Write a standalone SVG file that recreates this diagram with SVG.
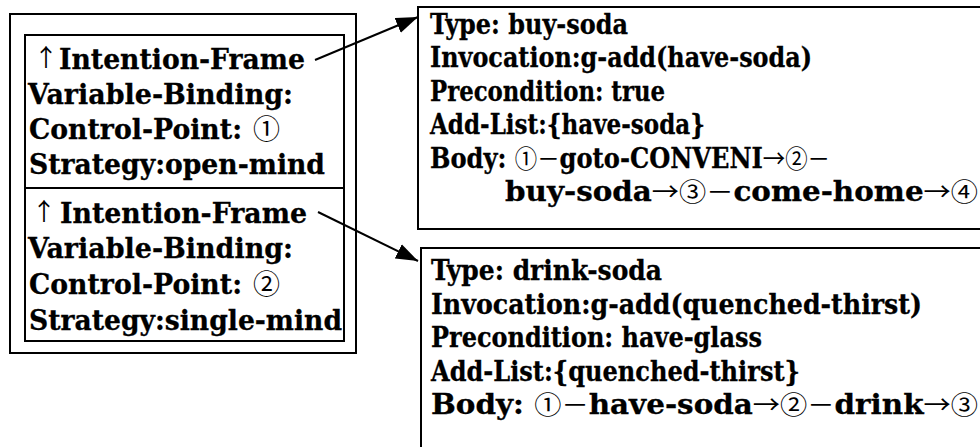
<svg xmlns="http://www.w3.org/2000/svg" width="980" height="447" viewBox="0 0 980 447">
  <style>
    .box { fill: none; stroke: #000; stroke-width: 2; }
    .t { font-family: "DejaVu Serif", "Liberation Serif", serif; font-weight: bold; font-size: 27px; fill: #000; stroke: #000; stroke-width: 0.3; }
    .s { font-family: "Noto Sans CJK JP", "DejaVu Sans", sans-serif; font-weight: normal; font-size: 25px; stroke-width: 0; }
    .cp { font-size: 27px; }
    .up { font-size: 24px; }
    .edge { stroke: #000; stroke-width: 2; fill: none; marker-end: url(#head); }
  </style>
  <defs>
    <marker id="head" markerUnits="userSpaceOnUse" markerWidth="24" markerHeight="16" refX="22" refY="8" orient="auto">
      <path d="M0,0 L22,8 L0,16 Z" fill="#000"/>
    </marker>
  </defs>
  <rect width="980" height="447" fill="#fff"/>

  <!-- stack of intention frames -->
  <g id="intention-stack">
    <rect class="box" x="10" y="14" width="346" height="339"/>
  </g>

  <g id="frame-1">
    <rect class="box" x="25" y="35" width="319" height="153"/>
    <text class="t s up" x="34" y="66">↑</text>
    <text class="t" x="59" y="69" textLength="246" lengthAdjust="spacingAndGlyphs">Intention-Frame</text>
    <text class="t" x="28" y="104" textLength="265" lengthAdjust="spacingAndGlyphs">Variable-Binding:</text>
    <text class="t" x="29" y="139" textLength="213" lengthAdjust="spacingAndGlyphs">Control-Point:</text>
    <text class="t s cp" x="253" y="139">①</text>
    <text class="t" x="29" y="174" textLength="296" lengthAdjust="spacingAndGlyphs">Strategy:open-mind</text>
  </g>

  <g id="frame-2">
    <rect class="box" x="25" y="188" width="319" height="153"/>
    <text class="t s up" x="32" y="220">↑</text>
    <text class="t" x="60" y="223" textLength="247" lengthAdjust="spacingAndGlyphs">Intention-Frame</text>
    <text class="t" x="28" y="258" textLength="265" lengthAdjust="spacingAndGlyphs">Variable-Binding:</text>
    <text class="t" x="29" y="294" textLength="213" lengthAdjust="spacingAndGlyphs">Control-Point:</text>
    <text class="t s cp" x="253" y="294">②</text>
    <text class="t" x="29" y="330" textLength="313" lengthAdjust="spacingAndGlyphs">Strategy:single-mind</text>
  </g>

  <!-- plan: buy-soda -->
  <g id="plan-buy-soda">
    <rect class="box" x="418" y="7" width="600" height="222"/>
    <text class="t" x="430" y="34" textLength="198" lengthAdjust="spacingAndGlyphs">Type: buy-soda</text>
    <text class="t" x="430" y="67" textLength="382" lengthAdjust="spacingAndGlyphs">Invocation:g-add(have-soda)</text>
    <text class="t" x="430" y="101" textLength="235" lengthAdjust="spacingAndGlyphs">Precondition: true</text>
    <text class="t" x="430" y="134" textLength="275" lengthAdjust="spacingAndGlyphs">Add-List:{have-soda}</text>
    <text class="t" x="430" y="168" textLength="400" lengthAdjust="spacingAndGlyphs">Body: <tspan class="s">①－</tspan>goto-CONVENI<tspan class="s">→②－</tspan></text>
    <text class="t" x="505" y="201" textLength="473" lengthAdjust="spacingAndGlyphs">buy-soda<tspan class="s">→③－</tspan>come-home<tspan class="s">→④</tspan></text>
  </g>

  <!-- plan: drink-soda -->
  <g id="plan-drink-soda">
    <rect class="box" x="421" y="248" width="600" height="220"/>
    <text class="t" x="431" y="280" textLength="231" lengthAdjust="spacingAndGlyphs">Type: drink-soda</text>
    <text class="t" x="431" y="314" textLength="491" lengthAdjust="spacingAndGlyphs">Invocation:g-add(quenched-thirst)</text>
    <text class="t" x="431" y="347" textLength="331" lengthAdjust="spacingAndGlyphs">Precondition: have-glass</text>
    <text class="t" x="431" y="381" textLength="369" lengthAdjust="spacingAndGlyphs">Add-List:{quenched-thirst}</text>
    <text class="t" x="431" y="414" textLength="547" lengthAdjust="spacingAndGlyphs">Body: <tspan class="s">①－</tspan>have-soda<tspan class="s">→②－</tspan>drink<tspan class="s">→③</tspan></text>
  </g>

  <g id="connectors">
    <line class="edge" x1="315" y1="60" x2="418" y2="17"/>
    <line class="edge" x1="318" y1="212" x2="418" y2="261"/>
  </g>
</svg>
